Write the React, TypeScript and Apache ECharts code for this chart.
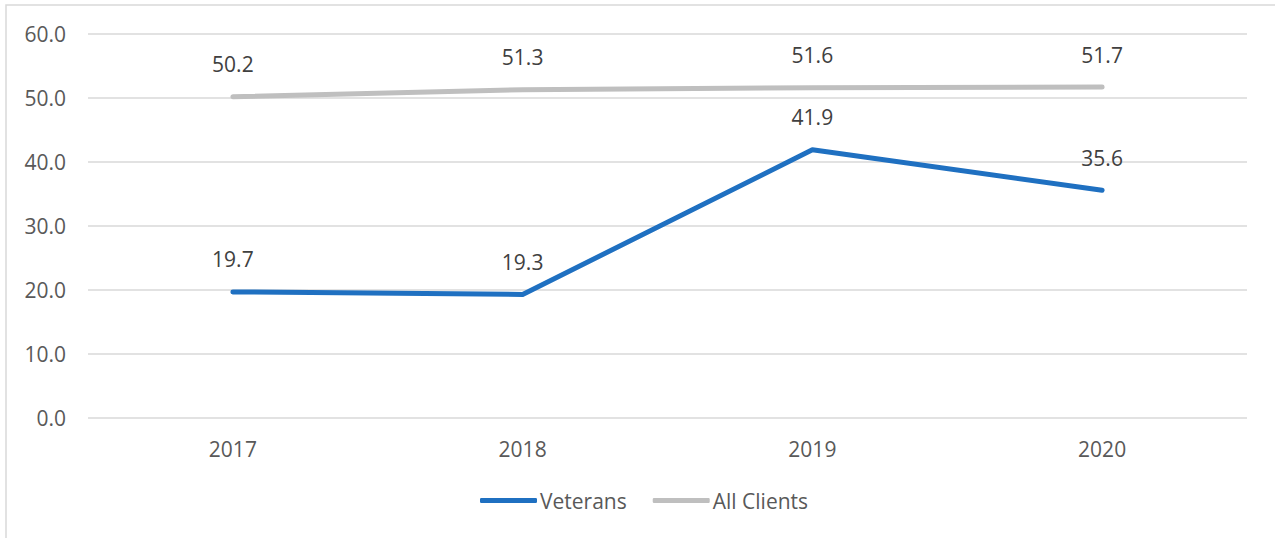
import React, { useEffect, useRef } from "react";
import * as echarts from "echarts";

const categories = ["2017", "2018", "2019", "2020"];
const veterans = [19.7, 19.3, 41.9, 35.6];
const allClients = [50.2, 51.3, 51.6, 51.7];

export default function App() {
  const ref = useRef<HTMLDivElement>(null);
  useEffect(() => {
    const chart = echarts.init(ref.current!, undefined, { renderer: "svg" });
    const font = "'Open Sans', 'Liberation Sans', sans-serif";
    const labelCfg = {
      show: true,
      position: "top",
      distance: 22,
      fontSize: 21,
      color: "#404040",
      fontFamily: font,
      formatter: (p: any) => Number(p.value).toFixed(1),
    };
    chart.setOption({
      animation: false,
      backgroundColor: "#ffffff",
      textStyle: { fontFamily: font },
      graphic: [
        {
          type: "rect",
          shape: { x: 6, y: 5, width: 1290, height: 560 },
          style: { fill: "none", stroke: "#d9d9d9", lineWidth: 1.5 },
          silent: true,
        },
      ],
      grid: { left: 88, right: 28, top: 34, bottom: 120 },
      legend: {
        bottom: 27,
        left: 480,
        padding: 0,
        itemWidth: 57,
        itemHeight: 5,
        itemGap: 26,
        textStyle: { fontSize: 21, color: "#595959", fontFamily: font, padding: [0, 0, 0, -2] },
        data: [
          { name: "Veterans", icon: "roundRect" },
          { name: "All Clients", icon: "roundRect" },
        ],
      },
      xAxis: {
        type: "category",
        data: categories,
        axisLine: { show: false },
        axisTick: { show: false },
        axisLabel: { fontSize: 21, color: "#595959", margin: 20, fontFamily: font },
      },
      yAxis: {
        type: "value",
        min: 0,
        max: 60,
        interval: 10,
        axisLabel: {
          fontSize: 21,
          color: "#595959",
          margin: 22,
          fontFamily: font,
          formatter: (v: number) => v.toFixed(1),
        },
        splitLine: { lineStyle: { color: "#d9d9d9", width: 1.5 } },
      },
      series: [
        {
          name: "Veterans",
          type: "line",
          data: veterans,
          symbol: "circle",
          symbolSize: 0.01,
          showSymbol: true,
          color: "#1f70c1",
          lineStyle: { width: 5, cap: "round", join: "round" },
          label: labelCfg,
        },
        {
          name: "All Clients",
          type: "line",
          data: allClients,
          symbol: "circle",
          symbolSize: 0.01,
          showSymbol: true,
          color: "#bfbfbf",
          lineStyle: { width: 5, cap: "round", join: "round" },
          label: labelCfg,
        },
      ],
    });
    return () => chart.dispose();
  }, []);
  return (
    <div
      ref={ref}
      style={{ position: "fixed", left: 0, top: 0, width: 1275, height: 538 }}
    />
  );
}
